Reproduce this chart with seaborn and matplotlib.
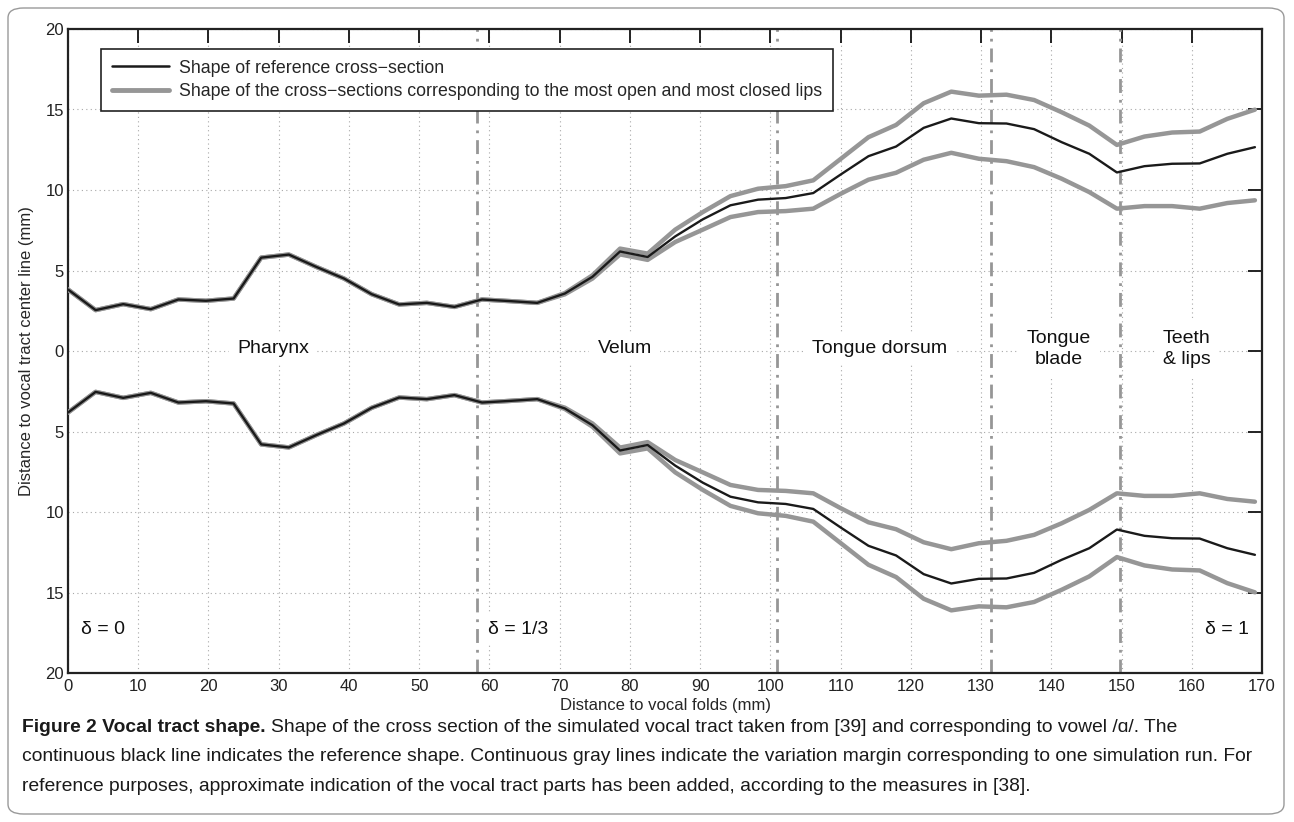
import numpy as np
import pandas as pd
import matplotlib
matplotlib.use("Agg")
import matplotlib.pyplot as plt
import seaborn as sns
from matplotlib.lines import Line2D
from matplotlib.patches import FancyBboxPatch

# ---------------- data ----------------
dist_mm = [0.0, 3.93, 7.86, 11.79, 15.72, 19.65, 23.58, 27.51, 31.44, 35.37,
           39.3, 43.23, 47.16, 51.09, 55.02, 58.95, 62.88, 66.81, 70.74, 74.67,
           78.6, 82.53, 86.46, 90.39, 94.32, 98.25, 102.18, 106.11, 110.04, 113.97,
           117.9, 121.83, 125.76, 129.69, 133.62, 137.55, 141.48, 145.41, 149.34, 153.27,
           157.2, 161.13, 165.06, 168.99]

reference = [3.82, 2.54, 2.91, 2.60, 3.20, 3.12, 3.26, 5.80, 5.99, 5.22,
             4.50, 3.53, 2.89, 2.99, 2.74, 3.20, 3.10, 2.99, 3.57, 4.61,
             6.18, 5.84, 7.12, 8.18, 9.05, 9.40, 9.50, 9.81, 10.97, 12.10,
             12.70, 13.86, 14.44, 14.15, 14.13, 13.78, 12.97, 12.25, 11.09, 11.48,
             11.63, 11.65, 12.25, 12.66]

most_open = [3.82, 2.54, 2.91, 2.60, 3.20, 3.12, 3.26, 5.80, 5.99, 5.22,
             4.50, 3.53, 2.89, 2.99, 2.74, 3.20, 3.10, 2.99, 3.60, 4.70,
             6.36, 6.05, 7.54, 8.63, 9.62, 10.08, 10.24, 10.60, 11.94, 13.28,
             14.04, 15.39, 16.11, 15.86, 15.92, 15.59, 14.83, 14.00, 12.80, 13.32,
             13.57, 13.63, 14.42, 14.99]

most_closed = [3.82, 2.54, 2.91, 2.60, 3.20, 3.12, 3.26, 5.80, 5.99, 5.22,
               4.50, 3.53, 2.89, 2.99, 2.74, 3.20, 3.10, 2.99, 3.52, 4.50,
               6.00, 5.66, 6.77, 7.54, 8.32, 8.63, 8.69, 8.84, 9.77, 10.64,
               11.07, 11.88, 12.31, 11.94, 11.79, 11.42, 10.70, 9.87, 8.84, 9.00,
               9.00, 8.84, 9.19, 9.36]

delta_positions = [58.2, 101.0, 131.4, 149.8]

region_names = ["Pharynx", "Velum", "Tongue dorsum", "Tongue\nblade", "Teeth\n& lips"]
region_x = [29.2, 79.3, 115.6, 141.1, 159.3]

delta_labels = ["\u03b4 = 0", "\u03b4 = 1/3", "\u03b4 = 1"]
delta_label_x = [1.8, 59.8, 168.2]

x_ticks = list(range(0, 171, 10))
y_ticks = [-20, -15, -10, -5, 0, 5, 10, 15, 20]
y_tick_labels = ["20", "15", "10", "5", "0", "5", "10", "15", "20"]

legend_labels = ["Shape of reference cross\u2212section",
                 "Shape of the cross\u2212sections corresponding to the most open and most closed lips"]

# ---------------- style ----------------
sns.set_style("white")
plt.rcParams['font.family'] = ['Liberation Sans', 'DejaVu Sans']
narrow = ['Liberation Sans', 'DejaVu Sans']

GRAY = "#969696"
BLACK = "#1a1a1a"

fig = plt.figure(figsize=(12.94, 8.22), dpi=100)
ax = fig.add_axes([68/1294, 1-673/822, (1262-68)/1294, (673-29)/822])

# build long frame
frames = []
for name, vals in [("open", most_open), ("closed", most_closed), ("ref", reference)]:
    v = np.array(vals)
    frames.append(pd.DataFrame({"x": dist_mm, "y": v, "series": name, "side": "upper"}))
    frames.append(pd.DataFrame({"x": dist_mm, "y": -v, "series": name, "side": "lower"}))
df = pd.concat(frames, ignore_index=True)

for name, col, lw, z in [("open", GRAY, 3.2, 3), ("closed", GRAY, 3.2, 3), ("ref", BLACK, 1.7, 4)]:
    for side in ["upper", "lower"]:
        sub = df[(df.series == name) & (df.side == side)]
        sns.lineplot(data=sub, x="x", y="y", ax=ax, color=col, lw=lw,
                     estimator=None, sort=False, zorder=z, legend=False)

# vertical delta lines
for xp in delta_positions:
    ax.axvline(xp, color=GRAY, lw=2.0, ls=(0, (5, 2.5, 1, 2.5)), zorder=2.5)

ax.set_xlim(0, 170)
ax.set_ylim(-20, 20)
ax.set_xticks(x_ticks)
ax.set_yticks(y_ticks)
ax.set_yticklabels(y_tick_labels)
ax.set_xticklabels([str(t) for t in x_ticks])
for lab in ax.get_xticklabels() + ax.get_yticklabels():
    lab.set_family(narrow)
    lab.set_fontsize(12)
    lab.set_color("#222222")

ax.tick_params(direction="in", length=10, width=1.4, top=True, right=True,
               colors="#222222", pad=3)
ax.tick_params(axis="x", pad=4)
for s in ax.spines.values():
    s.set_linewidth(1.6)
    s.set_color("#222222")
    s.set_visible(True)

ax.grid(True, ls=(0, (1, 3)), color="#a8a8a8", lw=0.8)
ax.set_axisbelow(True)

ax.set_xlabel("Distance to vocal folds (mm)", family=narrow, fontsize=12, labelpad=3)
ax.set_ylabel("Distance to vocal tract center line (mm)", family=narrow, fontsize=12, labelpad=8)

for name, xr in zip(region_names, region_x):
    ax.text(xr, 0.15, name, ha="center", va="center", fontsize=14, color="#111111",
            linespacing=1.3, zorder=2.2,
            bbox=dict(fc="white", ec="none", pad=6))

ax.text(delta_label_x[0], -17.3, delta_labels[0], ha="left", va="center", fontsize=14,
        color="#111111", zorder=2.2, bbox=dict(fc="white", ec="none", pad=5))
ax.text(delta_label_x[1], -17.3, delta_labels[1], ha="left", va="center", fontsize=14,
        color="#111111", zorder=2.2, bbox=dict(fc="white", ec="none", pad=5))
ax.text(delta_label_x[2], -17.3, delta_labels[2], ha="right", va="center", fontsize=14,
        color="#111111", zorder=2.2, bbox=dict(fc="white", ec="none", pad=5))

handles = [Line2D([0], [0], color=BLACK, lw=1.8), Line2D([0], [0], color=GRAY, lw=3.5)]
leg = ax.legend(handles, legend_labels, loc="upper left", bbox_to_anchor=(0.0276, 0.969),
                fontsize=12.8, frameon=True, fancybox=False, framealpha=1,
                edgecolor="#222222", handlelength=3.2, handletextpad=0.6,
                borderpad=0.6, labelspacing=0.38, borderaxespad=0)
leg.get_frame().set_linewidth(1.2)
leg.set_zorder(10)

# figure frame (rounded)
frame = FancyBboxPatch((8/1294, 8/822), (1284-8)/1294, (814-8)/822,
                       boxstyle="round,pad=0,rounding_size=0.012",
                       transform=fig.transFigure, fc="none", ec="#9a9a9a", lw=1.0)
fig.patches.append(frame)

# caption
cap_font = ['Liberation Sans', 'DejaVu Sans']
cap_size = 13.85
x0 = 22/1294
t1 = fig.text(x0, 1-727/822, "Figure 2 Vocal tract shape.", family=cap_font,
              fontsize=cap_size, fontweight="bold", va="center", ha="left", color="#1a1a1a")
fig.canvas.draw()
bb = t1.get_window_extent(renderer=fig.canvas.get_renderer())
fig.text(bb.x1/1294 + 5/1294, 1-727/822,
         "Shape of the cross section of the simulated vocal tract taken from [39] and corresponding to vowel /\u0251/. The",
         family=cap_font, fontsize=cap_size, va="center", ha="left", color="#1a1a1a")
fig.text(x0, 1-756/822,
         "continuous black line indicates the reference shape. Continuous gray lines indicate the variation margin corresponding to one simulation run. For",
         family=cap_font, fontsize=cap_size, va="center", ha="left", color="#1a1a1a")
fig.text(x0, 1-786/822,
         "reference purposes, approximate indication of the vocal tract parts has been added, according to the measures in [38].",
         family=cap_font, fontsize=cap_size, va="center", ha="left", color="#1a1a1a")

fig.savefig("out.png", dpi=100)
